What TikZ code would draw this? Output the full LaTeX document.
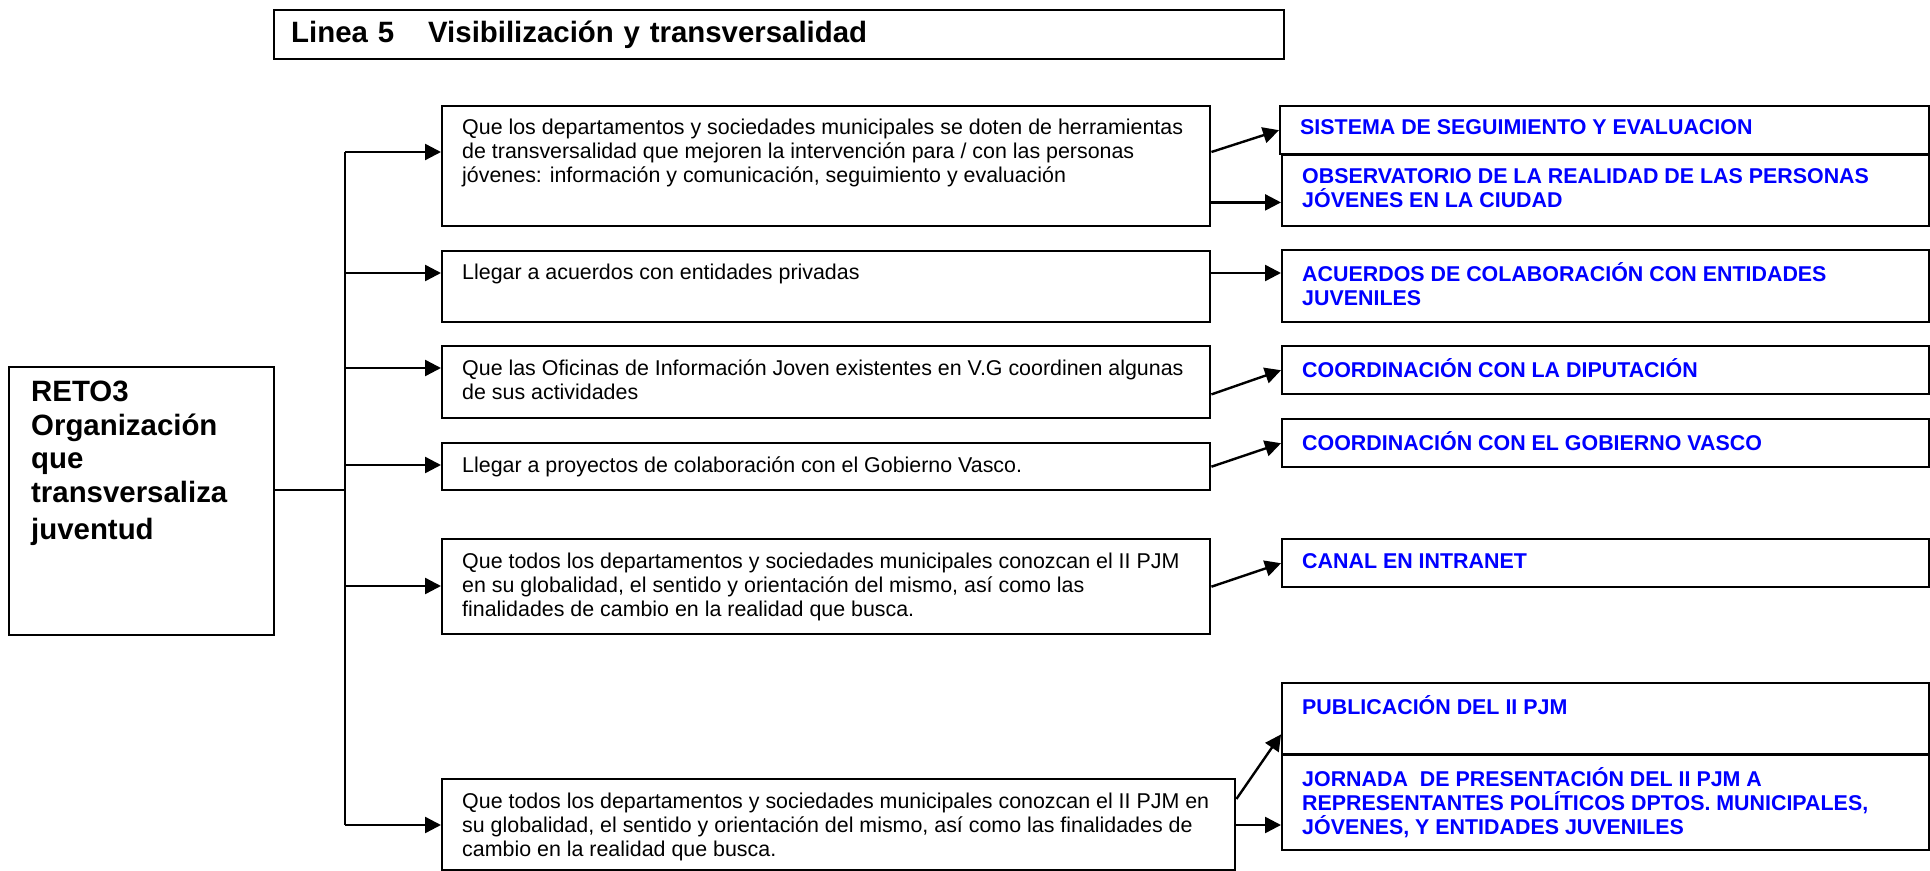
\documentclass[tikz,border=0pt]{standalone}
\usepackage{fontspec}
\setmainfont{Liberation Sans}
\usetikzlibrary{arrows.meta,calc,positioning}

\newcommand{\boxtext}[3]{\parbox[t][#2][t]{#1}{\lineskiplimit=-20pt\raggedright\vspace*{6pt}\strut#3}}

\tikzset{
  midbox/.style={draw, line width=1.2pt, anchor=north west, inner xsep=10pt, inner ysep=0pt, font=\fontsize{10.7}{12}\selectfont},
  outbox/.style={midbox, text=blue, font=\fontsize{10.7}{12}\selectfont\bfseries},
  arr/.style={-{Triangle[length=8pt,width=8pt]}, line width=1.2pt},
  link/.style={line width=1.2pt}
}

\begin{document}
\begin{tikzpicture}[x=0.5pt, y=-0.5pt]
  \useasboundingbox (0,0) rectangle (1930,871);

  % cabecera y reto
  \node[draw, line width=1.2pt, anchor=north west, minimum height=24.5pt, inner xsep=8.5pt, text width=488pt, align=left, font=\fontsize{14.7}{17}\selectfont\bfseries] (linea) at (273,9) {Linea 5\hspace{17pt}Visibilización y transversalidad};
  \node[draw, line width=1.2pt, anchor=north west, inner xsep=11pt, inner ysep=0pt, font=\fontsize{14.7}{16.9}\selectfont\bfseries] (reto) at (8,366) {\parbox[t][134pt][t]{110.5pt}{\lineskiplimit=-20pt\vspace*{5.2pt}\strut RETO3\\Organización\\que\\transversaliza\\[1.5pt]juventud}};

  % objetivos
  \node[midbox] (m1) at (441,105) {\boxtext{364pt}{60pt}{Que los departamentos y sociedades municipales se doten de herramientas\\de transversalidad que mejoren la intervención para / con las personas\\jóvenes: información y comunicación, seguimiento y evaluación}};
  \node[midbox] (m2) at (441,250) {\boxtext{364pt}{35.5pt}{Llegar a acuerdos con entidades privadas}};
  \node[midbox] (m3) at (441,345) {\boxtext{364pt}{36pt}{Que las Oficinas de Información Joven existentes en V.G coordinen algunas\\de sus actividades}};
  \node[midbox] (m4) at (441,442) {\boxtext{364pt}{23.5pt}{Llegar a proyectos de colaboración con el Gobierno Vasco.}};
  \node[midbox] (m5) at (441,538) {\boxtext{364pt}{47.5pt}{Que todos los departamentos y sociedades municipales conozcan el II PJM\\en su globalidad, el sentido y orientación del mismo, así como las\\finalidades de cambio en la realidad que busca.}};
  \node[midbox] (m6) at (441,778) {\boxtext{376.5pt}{45.5pt}{Que todos los departamentos y sociedades municipales conozcan el II PJM en\\su globalidad, el sentido y orientación del mismo, así como las finalidades de\\cambio en la realidad que busca.}};

  % acciones
  \node[outbox] (r1) at (1279,105) {\boxtext{304.5pt}{24pt}{SISTEMA DE SEGUIMIENTO Y EVALUACION}};
  \node[outbox] (r2) at (1281,154) {\boxtext{303.5pt}{35.5pt}{OBSERVATORIO DE LA REALIDAD DE LAS PERSONAS\\JÓVENES EN LA CIUDAD}};
  \node[outbox] (r3) at (1281,249) {\boxtext{303.5pt}{36pt}{ACUERDOS DE COLABORACIÓN CON ENTIDADES\\JUVENILES}};
  \node[outbox] (r4) at (1281,345) {\boxtext{303.5pt}{24pt}{COORDINACIÓN CON LA DIPUTACIÓN}};
  \node[outbox] (r5) at (1281,418) {\boxtext{303.5pt}{24pt}{COORDINACIÓN CON EL GOBIERNO VASCO}};
  \node[outbox] (r6) at (1281,538) {\boxtext{303.5pt}{24pt}{CANAL EN INTRANET}};
  \node[outbox] (r7) at (1281,682) {\boxtext{303.5pt}{35.5pt}{PUBLICACIÓN DEL II PJM}};
  \node[outbox] (r8) at (1281,754) {\boxtext{303.5pt}{47.5pt}{JORNADA\ \ DE PRESENTACIÓN DEL II PJM A\\REPRESENTANTES POLÍTICOS DPTOS. MUNICIPALES,\\JÓVENES, Y ENTIDADES JUVENILES}};

  % tronco
  \coordinate (jn) at (345,490);
  \coordinate (b1) at (345,152);
  \coordinate (b2) at (345,273);
  \coordinate (b3) at (345,368);
  \coordinate (b4) at (345,465);
  \coordinate (b5) at (345,586);
  \coordinate (b6) at (345,825);

  \draw[link] (reto.east |- jn) -- (jn);
  \draw[link] (b1) -- (b6);
  \draw[arr] (b1) -- (b1 -| m1.west);
  \draw[arr] (b2) -- (b2 -| m2.west);
  \draw[arr] (b3) -- (b3 -| m3.west);
  \draw[arr] (b4) -- (b4 -| m4.west);
  \draw[arr] (b5) -- (b5 -| m5.west);
  \draw[arr] (b6) -- (b6 -| m6.west);

  \draw[arr] (m1.east |- b1) -- (r1.west);
  \draw[arr] ($(m1.south east)+(0,-25)$) -- ($(r2.west |- m1.south)+(0,-25)$);
  \draw[arr] (m2.east |- b2) -- (r3.west |- b2);
  \draw[arr] ($(m3.south east)+(0,-25)$) -- (r4.west);
  \draw[arr] (m4.east) -- (r5.west);
  \draw[arr] (m5.east) -- (r6.west);
  \draw[arr] ($(m6.north east)+(0,21)$) -- ($(r7.south west)+(0,-21)$);
  \draw[arr] (m6.east |- b6) -- (r8.west |- b6);
\end{tikzpicture}
\end{document}
